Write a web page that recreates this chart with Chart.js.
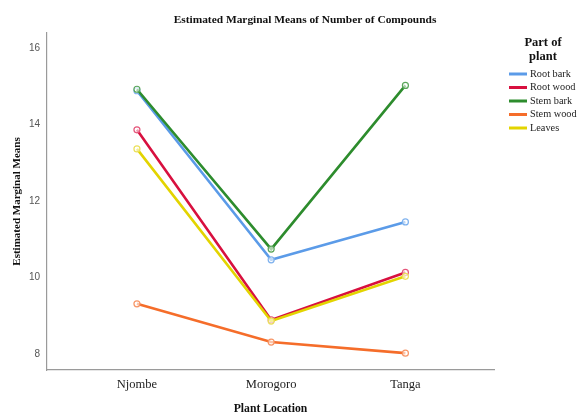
<!DOCTYPE html>
<html><head><meta charset="utf-8">
<script src="https://cdn.jsdelivr.net/npm/chart.js@4.4.1/dist/chart.umd.min.js"></script>
<style>html,body{margin:0;padding:0;background:#fff}#wrap{width:577px;height:412px;position:relative}</style>
</head><body><div id="wrap"><canvas id="c" width="577" height="412"></canvas></div>
<script>
const locations = ["Njombe", "Morogoro", "Tanga"];
const seriesNames = ["Root bark", "Root wood", "Stem bark", "Stem wood", "Leaves"];
const rootBark = [14.88, 10.46, 11.45];
const rootWood = [13.86, 8.89, 10.13];
const stemBark = [14.92, 10.74, 15.02];
const stemWood = [9.31, 8.31, 8.02];
const leaves = [13.36, 8.86, 10.03];
const yTicks = [8, 10, 12, 14, 16];
const seriesValues = [rootBark, rootWood, stemBark, stemWood, leaves];
const colors = ["#5b9be8", "#d8103f", "#2d8c2d", "#f56d2a", "#e3d400"];
const pointColors = ["#7fb2ee", "#e5557a", "#5aa65a", "#f79566", "#ebe05a"];
const drawOrder = [4, 3, 2, 1, 0];

const datasets = seriesNames.map((n, i) => ({
  label: n,
  data: seriesValues[i].map((v, j) => ({x: j, y: v})),
  borderColor: colors[i],
  backgroundColor: colors[i],
  borderWidth: 2.6,
  pointRadius: 3,
  pointBorderWidth: 1.2,
  pointBorderColor: pointColors[i],
  pointBackgroundColor: "rgba(255,255,255,0.6)",
  tension: 0,
  order: drawOrder[i]
}));

const decor = {
  id: "decor",
  afterDraw(chart) {
    const ctx = chart.ctx, a = chart.chartArea;
    ctx.save();
    ctx.fillStyle = "#111";
    ctx.textAlign = "center";
    ctx.textBaseline = "middle";
    ctx.font = "bold 11.4px 'Liberation Serif'";
    ctx.fillText("Estimated Marginal Means of Number of Compounds", 305, 20);
    ctx.font = "bold 11.7px 'Liberation Serif'";
    ctx.fillText("Plant Location", (a.left + a.right) / 2, 409);
    ctx.save();
    ctx.translate(17, (a.top + a.bottom) / 2);
    ctx.rotate(-Math.PI / 2);
    ctx.font = "bold 11px 'Liberation Serif'";
    ctx.fillText("Estimated Marginal Means", 0, 0);
    ctx.restore();
    // legend
    ctx.font = "bold 12.5px 'Liberation Serif'";
    ctx.fillText("Part of", 543, 43);
    ctx.fillText("plant", 543, 57);
    ctx.font = "10.3px 'Liberation Serif'";
    ctx.textAlign = "left";
    seriesNames.forEach((n, i) => {
      const y = 74 + i * 13.5;
      ctx.strokeStyle = colors[i];
      ctx.lineWidth = 3;
      ctx.beginPath(); ctx.moveTo(509, y); ctx.lineTo(527, y); ctx.stroke();
      ctx.fillStyle = "#222";
      ctx.fillText(n, 530, y);
    });
    ctx.restore();
  }
};

new Chart(document.getElementById("c"), {
  type: "line",
  data: { datasets },
  options: {
    responsive: false,
    animation: false,
    devicePixelRatio: 1,
    layout: { padding: { top: 33, right: 83, left: 0, bottom: 0 } },
    plugins: { legend: { display: false }, tooltip: { enabled: false } },
    scales: {
      x: {
        type: "linear", min: -0.67, max: 2.66,
        grid: { display: false, drawTicks: false },
        border: { display: true, color: "#9a9a9a", width: 1.2 },
        afterBuildTicks: s => { s.ticks = locations.map((_, i) => ({ value: i })); },
        afterFit: s => { s.height = 42; },
        ticks: {
          padding: 7,
          color: "#222",
          font: { family: "'Liberation Serif'", size: 12.5 },
          callback: v => locations[v]
        }
      },
      y: {
        min: 7.58, max: 16.39,
        grid: { display: false, drawTicks: false },
        border: { display: true, color: "#9a9a9a", width: 1.2 },
        afterBuildTicks: s => { s.ticks = yTicks.map(v => ({ value: v })); },
        afterFit: s => { s.width = 47; },
        ticks: {
          padding: 7,
          color: "#555",
          font: { family: "'Liberation Sans'", size: 10 }
        }
      }
    }
  },
  plugins: [decor]
});
</script></body></html>
